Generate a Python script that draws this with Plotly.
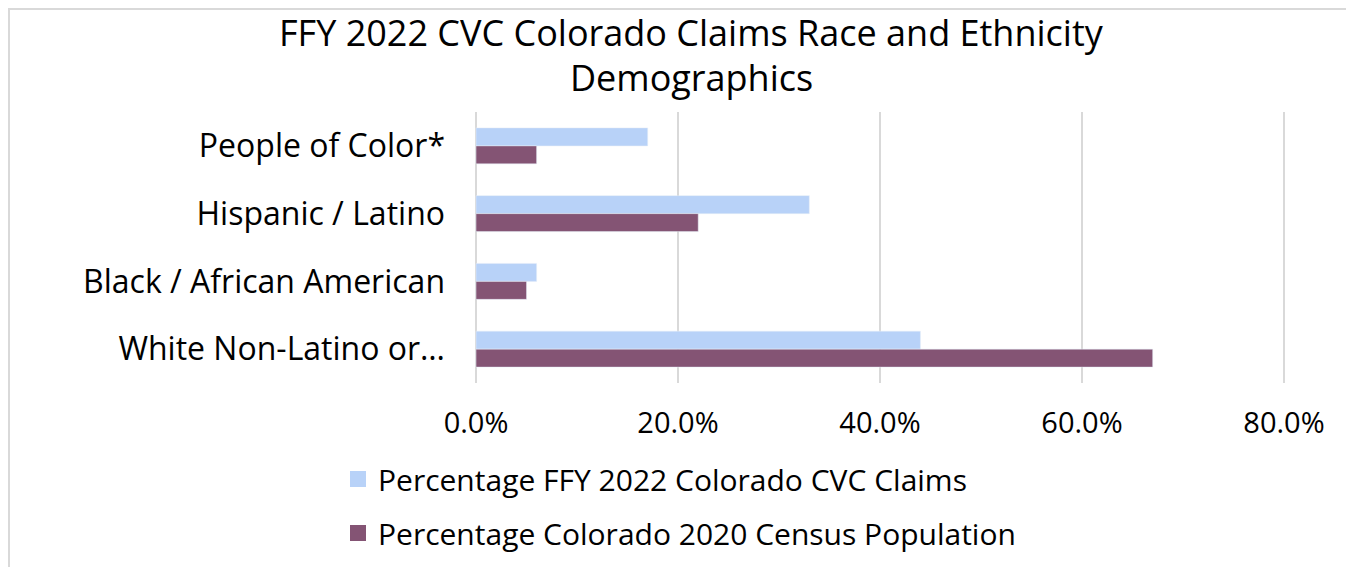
import plotly.graph_objects as go

categories = ["People of Color*", "Hispanic / Latino", "Black / African American", "White Non-Latino or…"]
claims_pct = [0.17, 0.33, 0.06, 0.44]
census_pct = [0.06, 0.22, 0.05, 0.67]
series_names = ["Percentage FFY 2022 Colorado CVC Claims", "Percentage Colorado 2020 Census Population"]
x_ticks = [0, 0.2, 0.4, 0.6, 0.8]
x_tick_labels = ["0.0%", "20.0%", "40.0%", "60.0%", "80.0%"]
title_lines = ["FFY 2022 CVC Colorado Claims Race and Ethnicity", "Demographics"]

OFF = 8                      # page body margin of the html page
W, H = 1354 - OFF, 567 - OFF
# plot area, in screenshot pixels (x range padded ~2px so edge gridlines show)
PAD = 0.002
SL, SR, ST, SB = 474, 1286, 112, 383
L, R, T, B = SL - OFF, SR - OFF, ST - OFF, SB - OFF


def px_x(p):
    return (p - OFF - L) / (R - L)


def px_y(p):
    return (B - (p - OFF)) / (B - T)


FONT = "Open Sans"
BLUE = "#B8D2F8"
PURPLE = "#845474"
colors = [BLUE, PURPLE]

fig = go.Figure()
for vals, name, col in zip([claims_pct, census_pct], series_names, colors):
    fig.add_trace(go.Bar(y=categories, x=vals, orientation="h", name=name,
                         marker=dict(color=col), showlegend=False))
# legend entries (square swatches)
for i, (name, col) in enumerate(zip(series_names, colors)):
    fig.add_trace(go.Scatter(x=[None], y=[None], mode="markers", name=name,
                             marker=dict(symbol="square", size=16, color=col),
                             legendgroup=f"g{i}", showlegend=True, hoverinfo="skip"))

fig.update_layout(
    width=W, height=H,
    margin=dict(l=L, r=W - R, t=T, b=H - B, pad=0, autoexpand=False),
    paper_bgcolor="white", plot_bgcolor="white",
    barmode="group", bargap=0.469, bargroupgap=0,
    font=dict(family=FONT, size=30, color="#000000"),
    xaxis=dict(range=[x_ticks[0] - PAD, x_ticks[-1] + PAD], tickvals=x_ticks, ticktext=x_tick_labels,
               showgrid=True, gridcolor="#D9D9D9", gridwidth=2, zeroline=False,
               showline=False, ticks="", ticklabelstandoff=20,
               tickfont=dict(family=FONT, size=29, color="#000000")),
    yaxis=dict(autorange="reversed", showgrid=False, zeroline=False, showline=False,
               ticks="", ticklabelstandoff=28, type="category",
               tickfont=dict(family=FONT, size=32, color="#000000")),
    legend=dict(orientation="v", x=px_x(338), xanchor="left", y=px_y(453), yanchor="top",
                traceorder="grouped", tracegroupgap=12, itemsizing="trace",
                font=dict(family=FONT, size=30, color="#000000"), bgcolor="rgba(0,0,0,0)"),
    showlegend=True,
)

# title lines
for txt, ypx in zip(title_lines, [33, 77]):
    fig.add_annotation(text=txt, xref="paper", yref="paper", x=px_x(691), y=px_y(ypx),
                       xanchor="center", yanchor="middle", showarrow=False,
                       font=dict(family=FONT, size=36, color="#000000"))

# outer chart border
fig.add_shape(type="rect", xref="paper", yref="paper",
              x0=px_x(9), x1=px_x(1351), y0=px_y(620), y1=px_y(9),
              line=dict(color="#D9D9D9", width=2), fillcolor="rgba(0,0,0,0)", layer="below")

fig.write_html("out.html")
